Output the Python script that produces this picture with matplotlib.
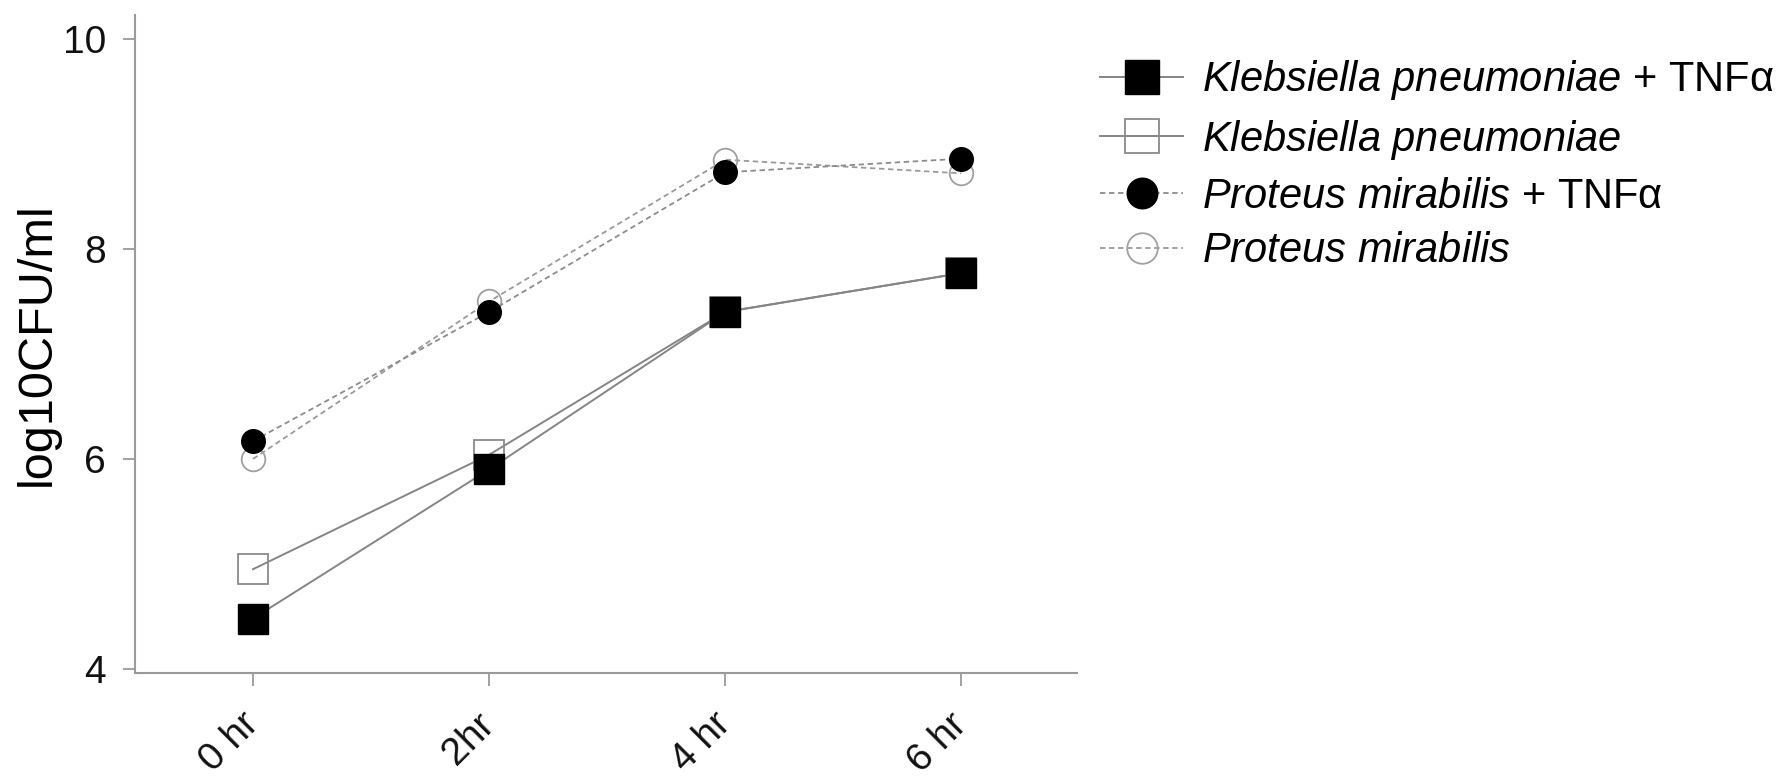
import matplotlib
matplotlib.use("Agg")
import matplotlib.pyplot as plt
from matplotlib.lines import Line2D

plt.rcParams['font.family'] = ['Liberation Sans', 'DejaVu Sans']
plt.rcParams['mathtext.fontset'] = 'custom'
plt.rcParams['mathtext.rm'] = 'Liberation Sans'
plt.rcParams['mathtext.it'] = 'Liberation Sans:italic'

# data
time_labels = ["0 hr", "2hr", "4 hr", "6 hr"]
kp_tnf = [4.48, 5.90, 7.40, 7.77]
kp = [4.95, 6.04, 7.40, 7.77]
pm_tnf = [6.17, 7.40, 8.73, 8.86]
pm = [6.00, 7.50, 8.85, 8.72]

series_names = [
    r"$\it{Klebsiella\ pneumoniae}$ + TNFα",
    r"$\it{Klebsiella\ pneumoniae}$",
    r"$\it{Proteus\ mirabilis}$ + TNFα",
    r"$\it{Proteus\ mirabilis}$",
]

line_grey = "#858585"
dash = (0, (3, 2))
x = list(range(len(time_labels)))

fig = plt.figure(figsize=(17.9, 7.8), dpi=100)
ax = fig.add_axes([0.0754, 0.137, 0.5263, 0.844])

# open markers first so filled ones sit on top
ax.plot(x, pm, linestyle=dash, color="#9a9a9a", lw=1.3, marker="o",
        ms=17, mfc="none", mec="#a0a0a0", mew=1.3)
ax.plot(x, kp, linestyle="-", color=line_grey, lw=1.4, marker="s",
        ms=21, mfc="none", mec="#8a8a8a", mew=1.3)
ax.plot(x, pm_tnf, linestyle=dash, color="#8c8c8c", lw=1.3, marker="o",
        ms=17, mfc="black", mec="black")
ax.plot(x, kp_tnf, linestyle="-", color=line_grey, lw=1.4, marker="s",
        ms=21, mfc="black", mec="black")

ax.set_xlim(-0.5, 3.49)
ax.set_ylim(3.96, 10.23)
ax.set_yticks([4, 6, 8, 10])
ax.set_xticks(x)
ax.set_xticklabels(time_labels, rotation=45, ha="right", va="center",
                   rotation_mode="anchor")
ax.set_ylabel("log10CFU/ml", fontsize=35, labelpad=2)

for side in ("top", "right"):
    ax.spines[side].set_visible(False)
for side in ("left", "bottom"):
    ax.spines[side].set_color("#9a9a9a")
    ax.spines[side].set_linewidth(1.5)
ax.tick_params(axis="both", colors="#9a9a9a", width=1.3, length=9,
               labelsize=28, labelcolor="#111111")
ax.tick_params(axis="y", pad=12)
ax.tick_params(axis="x", pad=24)

# legend handles, drawn a bit bigger than in the plot
handles = [
    Line2D([], [], linestyle="-", color=line_grey, lw=1.4, marker="s",
           ms=24, mfc="black", mec="black"),
    Line2D([], [], linestyle="-", color=line_grey, lw=1.4, marker="s",
           ms=24, mfc="none", mec="#8a8a8a", mew=1.3),
    Line2D([], [], linestyle=dash, color="#8c8c8c", lw=1.3, marker="o",
           ms=22, mfc="black", mec="black"),
    Line2D([], [], linestyle=dash, color="#9a9a9a", lw=1.3, marker="o",
           ms=22, mfc="none", mec="#a0a0a0", mew=1.3),
]
fig.legend(handles, series_names, loc="upper left",
           bbox_to_anchor=(0.6145, 0.925), frameon=False, fontsize=30,
           handlelength=2.0, handletextpad=0.45, labelspacing=0.36,
           borderpad=0, borderaxespad=0)

fig.savefig("out.png", dpi=100)
